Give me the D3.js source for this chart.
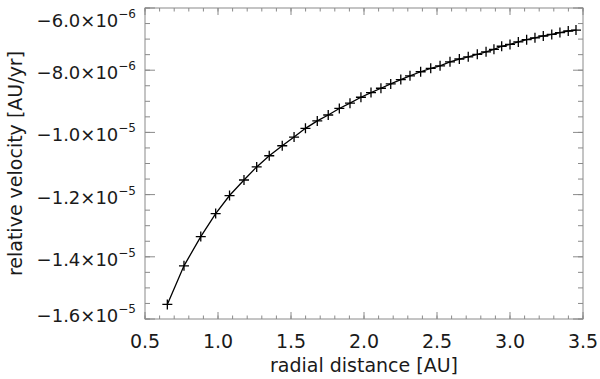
<!DOCTYPE html>
<html>
<head>
<meta charset="utf-8">
<script src="https://cdn.jsdelivr.net/npm/d3@7"></script>
<style>
  body { margin: 0; background: #fff; }
  text { font-family: "DejaVu Sans", "Liberation Sans", sans-serif; fill: #1a1a1a; }
</style>
</head>
<body>
<div id="chart"></div>
<script>
// radial distance [AU] of each point
var radius = [0.653, 0.767, 0.882, 0.984, 1.079, 1.178, 1.265, 1.351, 1.440, 1.521,
              1.599, 1.680, 1.755, 1.831, 1.904, 1.979, 2.048, 2.116, 2.183, 2.252,
              2.315, 2.388, 2.457, 2.521, 2.589, 2.653, 2.714, 2.776, 2.836, 2.890,
              2.943, 3.000, 3.057, 3.114, 3.171, 3.228, 3.286, 3.342, 3.399, 3.452]
// relative velocity [AU/yr]
var velocity = [-15.53e-6, -14.29e-6, -13.35e-6, -12.61e-6, -12.03e-6, -11.53e-6, -11.11e-6, -10.75e-6, -10.43e-6, -10.15e-6,
                -9.87e-6, -9.63e-6, -9.44e-6, -9.23e-6, -9.06e-6, -8.87e-6, -8.72e-6, -8.58e-6, -8.44e-6, -8.30e-6,
                -8.18e-6, -8.05e-6, -7.94e-6, -7.86e-6, -7.73e-6, -7.64e-6, -7.57e-6, -7.49e-6, -7.41e-6, -7.33e-6,
                -7.23e-6, -7.17e-6, -7.09e-6, -7.02e-6, -6.96e-6, -6.90e-6, -6.85e-6, -6.79e-6, -6.74e-6, -6.71e-6]

var xTicks = [0.5, 1.0, 1.5, 2.0, 2.5, 3.0, 3.5]
var yTicks = [-1.6e-5, -1.4e-5, -1.2e-5, -1.0e-5, -8.0e-6, -6.0e-6]

var data = radius.map(function(r, i) { return {r: r, v: velocity[i]} })

var W = 600, H = 379
var margin = {top: 8, right: 17, bottom: 60, left: 145},
    width = W - margin.left - margin.right,
    height = H - margin.top - margin.bottom

var x = d3.scaleLinear().domain([0.5, 3.5]).range([0, width])
var y = d3.scaleLinear().domain([-1.6e-5, -6e-6]).range([height, 0])

var svg = d3.select("#chart")
  .append("svg")
  .attr("width", W)
  .attr("height", H)
  .append("g")
  .attr("transform", "translate(" + margin.left + "," + margin.top + ")")

var axisColor = "#8a8a8a"

// minor / major ticks, drawn inward on all four sides
var xMinor = d3.range(5, 36).map(function(d) { return d / 10 })
var yMinor = d3.range(-32, -11).map(function(d) { return d * 5e-7 })

function tickSet(vals, x1, y1, x2, y2) {
  svg.append("g").selectAll("line")
    .data(vals).enter().append("line")
    .attr("x1", x1).attr("y1", y1).attr("x2", x2).attr("y2", y2)
    .attr("stroke", axisColor).attr("stroke-width", 1)
}
tickSet(xMinor, function(d) { return x(d) }, height, function(d) { return x(d) }, height - 3.5)
tickSet(xMinor, function(d) { return x(d) }, 0, function(d) { return x(d) }, 3.5)
tickSet(xTicks, function(d) { return x(d) }, height, function(d) { return x(d) }, height - 7)
tickSet(xTicks, function(d) { return x(d) }, 0, function(d) { return x(d) }, 7)
tickSet(yMinor, 0, function(d) { return y(d) }, 5, function(d) { return y(d) })
tickSet(yMinor, width, function(d) { return y(d) }, width - 5, function(d) { return y(d) })
tickSet(yTicks, 0, function(d) { return y(d) }, 10, function(d) { return y(d) })
tickSet(yTicks, width, function(d) { return y(d) }, width - 10, function(d) { return y(d) })

// frame
svg.append("rect")
  .attr("x", 0).attr("y", 0)
  .attr("width", width).attr("height", height)
  .attr("fill", "none")
  .attr("stroke", axisColor)
  .attr("stroke-width", 1)

// x tick labels
svg.append("g").selectAll("text")
  .data(xTicks).enter().append("text")
  .attr("x", function(d) { return x(d) })
  .attr("y", height + 29)
  .attr("text-anchor", "middle")
  .style("font-size", "19px")
  .text(function(d) { return d.toFixed(1) })

// y tick labels like -6.0x10^-6
var yLab = svg.append("g").selectAll("text")
  .data(yTicks).enter().append("text")
  .attr("x", -9)
  .attr("y", function(d) { return Math.max(18.5, Math.min(height + 3, y(d) + 9)) })
  .attr("text-anchor", "end")
  .style("font-size", "18px")

yLab.each(function(d) {
  var e = Math.floor(Math.log10(Math.abs(d)) + 1e-9)
  var m = d / Math.pow(10, e)
  var t = d3.select(this)
  t.append("tspan").text("\u2212" + Math.abs(m).toFixed(1) + "\u00d710")
  t.append("tspan").attr("dy", -9).style("font-size", "12px").text("\u2212" + Math.abs(e))
})

// axis titles
svg.append("text")
  .attr("x", width / 2)
  .attr("y", height + 53)
  .attr("text-anchor", "middle")
  .style("font-size", "19px")
  .text("radial distance [AU]")

svg.append("text")
  .attr("transform", "translate(" + (-123) + "," + (height / 2) + ") rotate(-90)")
  .attr("text-anchor", "middle")
  .style("font-size", "19px")
  .text("relative velocity [AU/yr]")

// the line
var drawLine = d3.line()
  .x(function(d) { return x(d.r) })
  .y(function(d) { return y(d.v) })

svg.append("path")
  .datum(data)
  .attr("fill", "none")
  .attr("stroke", "#000")
  .attr("stroke-width", 1.3)
  .attr("d", drawLine)

// plus markers
svg.append("g").selectAll("path")
  .data(data).enter().append("path")
  .attr("transform", function(d) { return "translate(" + x(d.r) + "," + y(d.v) + ")" })
  .attr("d", "M-5,0H5M0,-5V5")
  .attr("stroke", "#000")
  .attr("stroke-width", 1.3)
  .attr("fill", "none")
</script>
</body>
</html>
